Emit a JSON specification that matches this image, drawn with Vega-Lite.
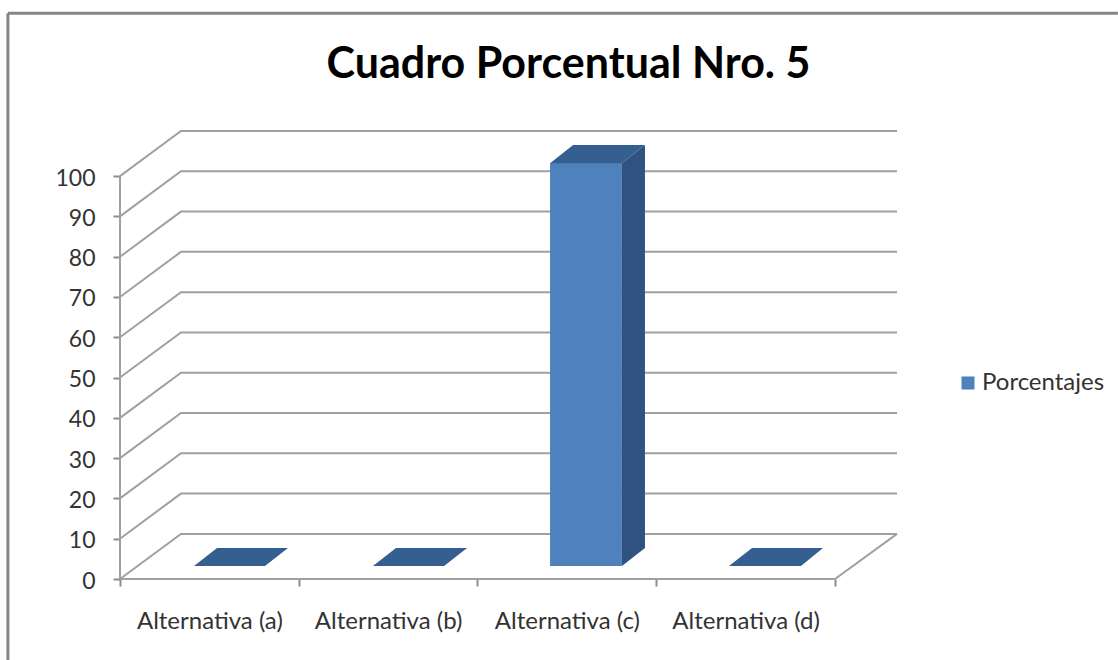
{
  "$schema": "https://vega.github.io/schema/vega-lite/v6.json",
  "width": 777,
  "height": 448,
  "autosize": {"type": "none"},
  "padding": {"left": 120, "top": 131, "right": 221, "bottom": 81},
  "background": "#ffffff",
  "title": {
    "text": "Cuadro Porcentual Nro. 5",
    "font": "Lato", "fontSize": 43, "fontWeight": "bold", "color": "#000000",
    "anchor": "middle", "frame": "group", "dx": 60, "offset": -80
  },
  "config": {"view": {"stroke": null}},
  "datasets": {
    "walls": [
      {"level":0,"x":0,"y":0},{"level":0,"x":0.341,"y":11.2},{"level":0,"x":4.347,"y":11.2},
      {"level":10,"x":0,"y":10},{"level":10,"x":0.341,"y":21.2},{"level":10,"x":4.347,"y":21.2},
      {"level":20,"x":0,"y":20},{"level":20,"x":0.341,"y":31.2},{"level":20,"x":4.347,"y":31.2},
      {"level":30,"x":0,"y":30},{"level":30,"x":0.341,"y":41.2},{"level":30,"x":4.347,"y":41.2},
      {"level":40,"x":0,"y":40},{"level":40,"x":0.341,"y":51.2},{"level":40,"x":4.347,"y":51.2},
      {"level":50,"x":0,"y":50},{"level":50,"x":0.341,"y":61.2},{"level":50,"x":4.347,"y":61.2},
      {"level":60,"x":0,"y":60},{"level":60,"x":0.341,"y":71.2},{"level":60,"x":4.347,"y":71.2},
      {"level":70,"x":0,"y":70},{"level":70,"x":0.341,"y":81.2},{"level":70,"x":4.347,"y":81.2},
      {"level":80,"x":0,"y":80},{"level":80,"x":0.341,"y":91.2},{"level":80,"x":4.347,"y":91.2},
      {"level":90,"x":0,"y":90},{"level":90,"x":0.341,"y":101.2},{"level":90,"x":4.347,"y":101.2},
      {"level":100,"x":0,"y":100},{"level":100,"x":0.341,"y":111.2},{"level":100,"x":4.347,"y":111.2},
      {"level":-1,"x":0,"y":0},{"level":-1,"x":0,"y":100},
      {"level":-2,"x":0,"y":0},{"level":-2,"x":4,"y":0},{"level":-2,"x":4.347,"y":11.2}
    ],
    "frame": [
      {"side":"top","x":-0.627,"y":140.4},{"side":"top","x":5.583,"y":140.4},
      {"side":"left","x":-0.627,"y":140.4},{"side":"left","x":-0.627,"y":-20.1}
    ],
    "bars": [
      {"alternativa":"Alternativa (c)","porcentaje":100,"serie":"Porcentajes","inicio":2.406,"fin":2.808}
    ],
    "topFaces": [
      {"alternativa":"a","x":0.414,"y":3.2,"y2":3.2},{"alternativa":"a","x":0.543,"y":3.2,"y2":7.7},{"alternativa":"a","x":0.811,"y":3.2,"y2":7.7},{"alternativa":"a","x":0.94,"y":7.7,"y2":7.7},
      {"alternativa":"b","x":1.415,"y":3.2,"y2":3.2},{"alternativa":"b","x":1.544,"y":3.2,"y2":7.7},{"alternativa":"b","x":1.813,"y":3.2,"y2":7.7},{"alternativa":"b","x":1.942,"y":7.7,"y2":7.7},
      {"alternativa":"c","x":2.406,"y":103.2,"y2":103.2},{"alternativa":"c","x":2.535,"y":103.2,"y2":107.7},{"alternativa":"c","x":2.808,"y":103.2,"y2":107.7},{"alternativa":"c","x":2.937,"y":107.7,"y2":107.7},
      {"alternativa":"d","x":3.407,"y":3.2,"y2":3.2},{"alternativa":"d","x":3.536,"y":3.2,"y2":7.7},{"alternativa":"d","x":3.81,"y":3.2,"y2":7.7},{"alternativa":"d","x":3.933,"y":7.7,"y2":7.7}
    ],
    "sideFaces": [
      {"alternativa":"c","x":2.808,"y":3.2,"y2":103.2},{"alternativa":"c","x":2.937,"y":7.7,"y2":107.7}
    ]
  },
  "layer": [
    {
      "data": {"name": "frame"},
      "mark": {"type": "line", "stroke": "#868686", "strokeWidth": 3, "clip": false},
      "encoding": {
        "x": {"field": "x", "type": "quantitative", "scale": {"domain": [0, 4.347], "nice": false, "zero": false},
          "axis": {"values": [0, 1, 2, 3, 4], "labels": false, "grid": false, "domain": false, "title": null, "tickSize": 7, "tickWidth": 2, "tickColor": "#8c8c8c", "orient": "bottom"}},
        "y": {"field": "y", "type": "quantitative", "scale": {"domain": [0, 111.2], "nice": false, "zero": false},
          "axis": {"values": [0,10,20,30,40,50,60,70,80,90,100], "grid": false, "domain": false, "title": null, "tickSize": 7, "tickWidth": 2, "tickColor": "#8c8c8c", "labelFont": "Lato", "labelFontSize": 23, "labelColor": "#333333", "labelPadding": 18, "labelBaseline": "middle", "labelOffset": 2, "labelOverlap": false}},
        "detail": {"field": "side"}
      }
    },
    {
      "data": {"name": "walls"},
      "mark": {"type": "line", "stroke": "#a0a0a0", "strokeWidth": 2},
      "encoding": {
        "x": {"field": "x", "type": "quantitative",
          "axis": {"values": [0.5, 1.5, 2.5, 3.5], "labelExpr": "['Alternativa (a)','Alternativa (b)','Alternativa (c)','Alternativa (d)'][floor(datum.value)]", "ticks": false, "grid": false, "domain": false, "title": null, "orient": "bottom", "labelFont": "Lato", "labelFontSize": 24, "labelColor": "#333333", "labelPadding": 30, "labelFlush": false, "labelOverlap": false}},
        "y": {"field": "y", "type": "quantitative"},
        "detail": {"field": "level"}
      }
    },
    {
      "data": {"name": "bars"},
      "mark": {"type": "bar", "yOffset": -13, "y2Offset": -13},
      "encoding": {
        "x": {"field": "inicio", "type": "quantitative", "axis": null},
        "x2": {"field": "fin"},
        "y": {"field": "porcentaje", "type": "quantitative"},
        "y2": {"datum": 0},
        "color": {"field": "serie", "type": "nominal", "scale": {"domain": ["Porcentajes"], "range": ["#4f81bd"]},
          "legend": {"title": null, "orient": "none", "legendX": 836, "legendY": 240, "symbolType": "square", "symbolSize": 170, "labelFont": "Lato", "labelFontSize": 24, "labelColor": "#333333", "labelOffset": 2}}
      }
    },
    {
      "data": {"name": "topFaces"},
      "mark": {"type": "area", "fill": "#365f91", "line": false},
      "encoding": {
        "x": {"field": "x", "type": "quantitative", "axis": null},
        "y": {"field": "y", "type": "quantitative"},
        "y2": {"field": "y2"},
        "detail": {"field": "alternativa"}
      }
    },
    {
      "data": {"name": "sideFaces"},
      "mark": {"type": "area", "fill": "#2f5280", "line": false},
      "encoding": {
        "x": {"field": "x", "type": "quantitative", "axis": null},
        "y": {"field": "y", "type": "quantitative"},
        "y2": {"field": "y2"},
        "detail": {"field": "alternativa"}
      }
    }
  ],
  "resolve": {"axis": {"x": "independent"}}
}
